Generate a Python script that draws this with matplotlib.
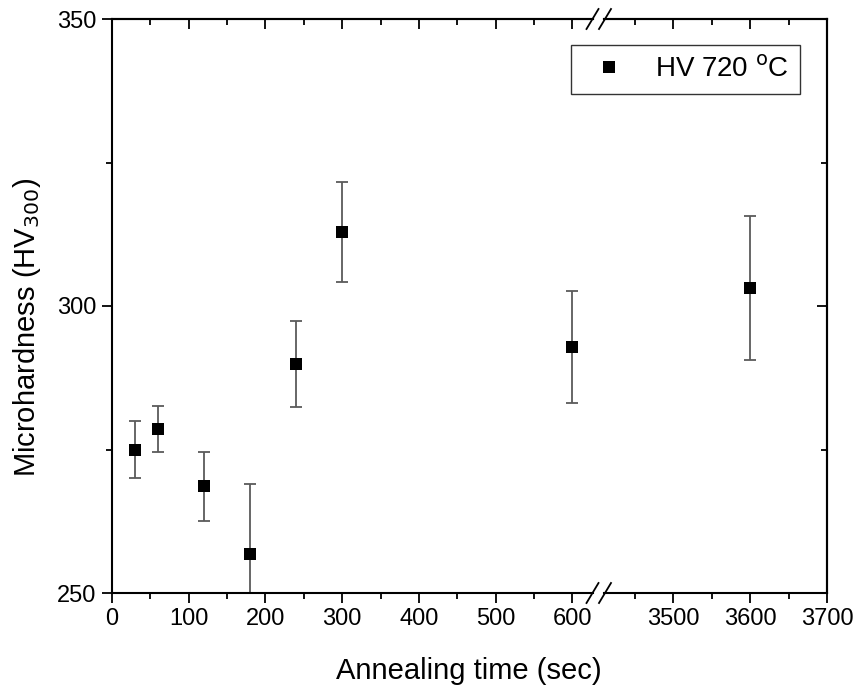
import matplotlib.pyplot as plt
from matplotlib.ticker import MultipleLocator
from matplotlib.lines import Line2D

plt.rcParams['font.family'] = ['Liberation Sans', 'DejaVu Sans']

time_s = [30, 60, 120, 180, 240, 300, 600, 3600]
hv = [275.0, 278.6, 268.6, 256.8, 289.9, 312.9, 292.9, 303.1]
hv_err = [5.0, 4.0, 6.0, 12.2, 7.5, 8.7, 9.8, 12.5]

fig = plt.figure(figsize=(8.57, 6.90), dpi=100)
W, H = 857.0, 690.0
bot = (H - 593) / H
hgt = (593 - 19) / H
ax1 = fig.add_axes([112 / W, bot, (593 - 112) / W, hgt])
ax2 = fig.add_axes([604 / W, bot, (827 - 604) / W, hgt], sharey=ax1)

left_t = [t for t in time_s if t < 1000]
left_v = [v for t, v in zip(time_s, hv) if t < 1000]
left_e = [e for t, e in zip(time_s, hv_err) if t < 1000]
right_t = [t for t in time_s if t >= 1000]
right_v = [v for t, v in zip(time_s, hv) if t >= 1000]
right_e = [e for t, e in zip(time_s, hv_err) if t >= 1000]

for ax, xs, ys, es in ((ax1, left_t, left_v, left_e), (ax2, right_t, right_v, right_e)):
    eb = ax.errorbar(xs, ys, yerr=es, fmt='none', ecolor='#5a5a5a', elinewidth=1.3,
                     capsize=4, capthick=1.3)
    for c in eb[1]:
        c.set_color('#1a1a1a')
    ax.plot(xs, ys, 's', color='black', ms=8.8, mew=0, zorder=3)

ax1.set_xlim(0, 627)
ax2.set_xlim(3410, 3700)
ax1.set_ylim(250, 350)

for ax in (ax1, ax2):
    for s in ax.spines.values():
        s.set_linewidth(1.5)
    ax.xaxis.set_minor_locator(MultipleLocator(50))
    ax.tick_params(axis='both', which='major', direction='out', length=7, width=1.3,
                   labelsize=17, pad=4, top=False, right=False)
    ax.tick_params(axis='both', which='minor', direction='out', length=4, width=1.3,
                   top=False, right=False)
    sec = ax.secondary_xaxis('top')
    sec.xaxis.set_minor_locator(MultipleLocator(50))
    sec.tick_params(which='major', direction='in', length=7, width=1.3, labeltop=False)
    sec.tick_params(which='minor', direction='in', length=4, width=1.3)
    sec.spines['top'].set_linewidth(1.5)

ax1.xaxis.set_major_locator(MultipleLocator(100))
ax2.set_xticks([3500, 3600, 3700])
ax1.yaxis.set_major_locator(MultipleLocator(50))
ax1.yaxis.set_minor_locator(MultipleLocator(25))

ax1.spines['right'].set_visible(False)
ax2.spines['left'].set_visible(False)
ax2.tick_params(axis='y', which='both', left=False, labelleft=False)

secy = ax2.secondary_yaxis('right')
secy.yaxis.set_major_locator(MultipleLocator(50))
secy.yaxis.set_minor_locator(MultipleLocator(25))
secy.tick_params(which='major', direction='in', length=7, width=1.3, labelright=False)
secy.tick_params(which='minor', direction='in', length=4, width=1.3)
secy.spines['right'].set_linewidth(1.5)

# break marks
for yb in (593, 19):
    for xc in (592.5, 605):
        fig.add_artist(Line2D([(xc - 6) / W, (xc + 6) / W],
                              [(H - yb - 10) / H, (H - yb + 10) / H],
                              color='black', lw=1.3, transform=fig.transFigure))

fig.text(27 / W, (H - 327) / H, 'Microhardness (HV$_{300}$)', rotation=90,
         ha='center', va='center', fontsize=21)
fig.text(469 / W, (H - 671) / H, 'Annealing time (sec)', ha='center', va='center',
         fontsize=21)

mk = Line2D([], [], marker='s', color='black', ls='none', ms=8.8, mew=0)
leg = fig.legend(handles=[mk], labels=['HV 720 $^{\\mathrm{o}}$C'], loc='upper right',
                 bbox_to_anchor=(800 / W, (H - 45) / H), fontsize=20, frameon=True,
                 fancybox=False, edgecolor='black', handlelength=2.0, handletextpad=0.65,
                 borderpad=0.4, borderaxespad=0)
leg.get_frame().set_linewidth(1.0)

fig.savefig('out.png', dpi=100)
